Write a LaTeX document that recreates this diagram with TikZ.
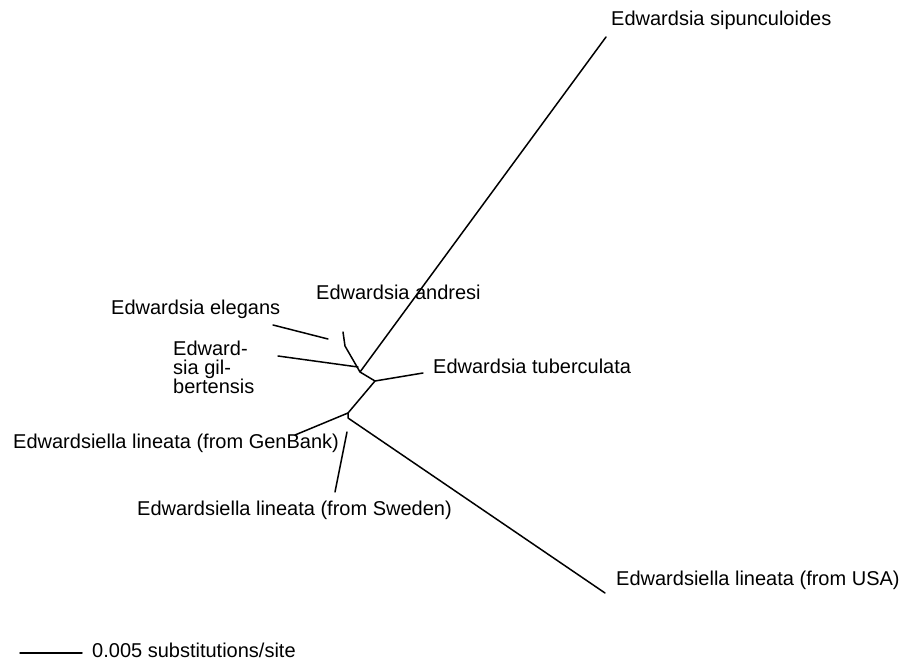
\documentclass[tikz,border=0pt]{standalone}
\usepackage{fontspec}
\setmainfont{Liberation Sans}
\begin{document}
\begin{tikzpicture}[x=1pt,y=-1pt,
  branch/.style={line width=1.5pt,line cap=round,line join=round},
  taxon/.style={inner sep=0pt,anchor=base west,font=\fontsize{20}{19}\selectfont}]
\useasboundingbox (0,0) rectangle (912,660);
% internal nodes
\coordinate (n1) at (360,372);
\coordinate (n2) at (375,381);
\coordinate (n3) at (348,413);
\coordinate (n3b) at (348,418);
\coordinate (a1) at (343,332);
\coordinate (a2) at (345,346);
% leaf ends
\coordinate (sip) at (606,37);
\coordinate (tub) at (423,373);
\coordinate (gil0) at (278,356);
\coordinate (gil1) at (358,367);
\coordinate (ele0) at (273,325);
\coordinate (ele1) at (328,339);
\coordinate (gen) at (295,435);
\coordinate (usa) at (605,593);
\coordinate (swe0) at (347,432);
\coordinate (swe1) at (335,492);
\coordinate (sb0) at (20,653);
\coordinate (sb1) at (82,653);
% labels
\node[taxon] (Lsip) at (611,26) {Edwardsia sipunculoides};
\node[taxon] (Land) at (316,299) {Edwardsia andresi};
\node[taxon] (Lele) at (111,314) {Edwardsia elegans};
\node[taxon,align=left,anchor=north west] (Lgil) at (173,340.5) {Edward-\\sia gil-\\bertensis};
\node[taxon] (Ltub) at (433,373) {Edwardsia tuberculata};
\node[taxon] (Lgen) at (13,448) {Edwardsiella lineata (from GenBank)};
\node[taxon] (Lswe) at (137,515) {Edwardsiella lineata (from Sweden)};
\node[taxon] (Lusa) at (616,585) {Edwardsiella lineata (from USA)};
\node[taxon] (Lsb) at (92,657) {0.005 substitutions/site};
% branches
\draw[branch] (sip) -- (n1) -- (n2) -- (n3);
\draw[branch] (a1) -- (a2) -- (n1);
\draw[branch] (gil0) -- (gil1);
\draw[branch] (ele0) -- (ele1);
\draw[branch] (n2) -- (tub);
\draw[branch] (gen) -- (n3) -- (n3b) -- (usa);
\draw[branch] (swe0) -- (swe1);
\draw[branch] (sb0) -- (sb1);
\end{tikzpicture}
\end{document}
